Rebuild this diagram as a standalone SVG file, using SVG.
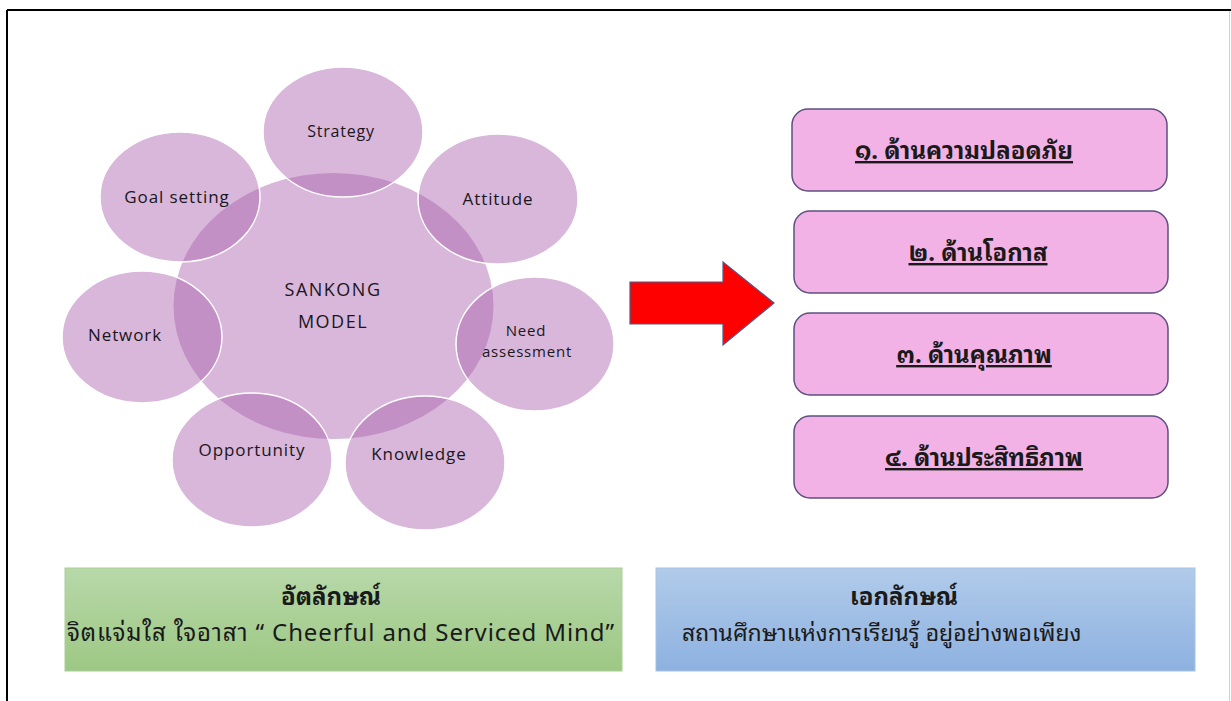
<svg xmlns="http://www.w3.org/2000/svg" width="1231" height="701" viewBox="0 0 1231 701">
<defs>
<style>
.c{fill:rgb(170,98,175);fill-opacity:0.46;}
.o{fill:rgb(170,98,175);fill-opacity:0.46;stroke:#fff;stroke-width:1.5;}
.lbl{font-family:"Open Sans","Noto Sans","Liberation Sans",sans-serif;font-size:17px;letter-spacing:0.9px;fill:#1a1620;text-anchor:middle;}
.box{fill:#F2B2E6;stroke:#5E4F80;stroke-width:1.5;}
.bt{font-family:"Noto Sans Thai Looped","Noto Sans Thai","Noto Sans","DejaVu Sans",sans-serif;font-size:24px;font-weight:bold;fill:#1a1a1a;text-anchor:middle;text-decoration:underline;}
.tt{font-family:"Noto Sans Thai Looped","Noto Sans Thai","Noto Sans","DejaVu Sans",sans-serif;fill:#1a1a1a;}
</style>
<linearGradient id="gg" x1="0" y1="0" x2="0" y2="1">
<stop offset="0" stop-color="#B8D8A9"/>
<stop offset="1" stop-color="#9DC884"/>
</linearGradient>
<linearGradient id="bg" x1="0" y1="0" x2="0" y2="1">
<stop offset="0" stop-color="#B1CBEA"/>
<stop offset="1" stop-color="#8DB1E0"/>
</linearGradient>
</defs>
<rect x="0" y="0" width="1231" height="701" fill="#fff"/>
<g id="frame">
<line x1="7" y1="10" x2="1231" y2="10" stroke="#000" stroke-width="2"/>
<line x1="7" y1="10" x2="7" y2="701" stroke="#000" stroke-width="2"/>
<line x1="1229.5" y1="11" x2="1229.5" y2="701" stroke="#d0d0d0" stroke-width="1"/>
</g>
<g id="center">
<ellipse class="c" cx="333.5" cy="306" rx="160" ry="133"/>
<text class="lbl" x="333" y="296" style="font-size:18px;letter-spacing:1.5px">SANKONG</text>
<text class="lbl" x="333" y="328" style="font-size:18px;letter-spacing:1.5px">MODEL</text>
</g>
<g id="strategy">
<ellipse class="o" cx="343" cy="132" rx="80" ry="65"/>
<text class="lbl" x="341" y="137" style="font-size:16px;letter-spacing:0.8px">Strategy</text>
</g>
<g id="goal">
<ellipse class="o" cx="180" cy="197" rx="80" ry="65"/>
<text class="lbl" x="177" y="203">Goal setting</text>
</g>
<g id="attitude">
<ellipse class="o" cx="498" cy="199" rx="80" ry="65"/>
<text class="lbl" x="498" y="205">Attitude</text>
</g>
<g id="network">
<ellipse class="o" cx="142" cy="337" rx="80" ry="66"/>
<text class="lbl" x="125" y="341">Network</text>
</g>
<g id="need">
<ellipse class="o" cx="535" cy="344" rx="79" ry="67"/>
<text class="lbl" x="526" y="336" style="font-size:15px;letter-spacing:0.8px">Need</text>
<text class="lbl" x="527" y="357" style="font-size:15px;letter-spacing:0.8px">assessment</text>
</g>
<g id="opportunity">
<ellipse class="o" cx="252" cy="460" rx="80" ry="67"/>
<text class="lbl" x="252" y="456">Opportunity</text>
</g>
<g id="knowledge">
<ellipse class="o" cx="425" cy="463" rx="80" ry="67"/>
<text class="lbl" x="419" y="460">Knowledge</text>
</g>
<g id="connectors">
<polygon points="630,282 723,282 723,262 774,303 723,345 723,324 630,324" fill="#FF0000" stroke="#4F5A8A" stroke-width="1.2"/>
</g>
<g id="box1">
<rect class="box" x="792" y="109" width="375" height="82" rx="16"/>
<text class="bt" x="964" y="159">๑. ด้านความปลอดภัย</text>
</g>
<g id="box2">
<rect class="box" x="794" y="211" width="374" height="82" rx="16"/>
<text class="bt" x="978" y="261">๒. ด้านโอกาส</text>
</g>
<g id="box3">
<rect class="box" x="794" y="313" width="374" height="82" rx="16"/>
<text class="bt" x="974" y="363">๓. ด้านคุณภาพ</text>
</g>
<g id="box4">
<rect class="box" x="794" y="416" width="374" height="82" rx="16"/>
<text class="bt" x="984" y="466">๔. ด้านประสิทธิภาพ</text>
</g>
<g id="identity">
<rect x="65" y="568" width="557" height="103" fill="url(#gg)" stroke="#A9CF96" stroke-width="1"/>
<text class="tt" x="331" y="605" font-size="24" font-weight="bold" text-anchor="middle">อัตลักษณ์</text>
<text class="tt" x="67" y="641" font-size="24" textLength="547" lengthAdjust="spacing">จิตแจ่มใส ใจอาสา “ Cheerful and Serviced Mind”</text>
</g>
<g id="uniqueness">
<rect x="656" y="568" width="539" height="103" fill="url(#bg)" stroke="#A6C2E6" stroke-width="1"/>
<text class="tt" x="904" y="605" font-size="24" font-weight="bold" text-anchor="middle">เอกลักษณ์</text>
<text class="tt" x="682" y="641" font-size="23">สถานศึกษาแห่งการเรียนรู้ อยู่อย่างพอเพียง</text>
</g>
</svg>
